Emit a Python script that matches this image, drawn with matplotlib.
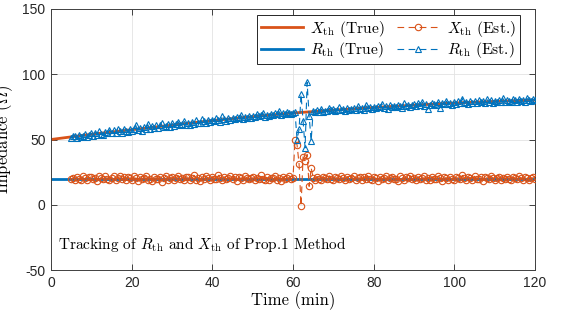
import numpy as np
import matplotlib
matplotlib.use("Agg")
import matplotlib.pyplot as plt

# ---------------- data ----------------
t_true = [0, 10, 20, 30, 40, 50, 60, 70, 80, 90, 100, 110, 120]
x_true = [50.0, 54.0, 57.5, 61.0, 64.5, 67.5, 70.3, 72.5, 74.5, 76.3, 78.0, 79.2, 80.2]
r_true = [20.0] * 13

t_est = np.arange(5.0, 120.01, 0.5)

x_est = [
    19.6, 20.8, 18.9, 21.3, 20.1, 19.2, 21.7, 20.4, 18.7, 20.9,
    21.5, 19.8, 20.3, 18.5, 21.9, 20.6, 19.4, 22.3, 20.0, 19.1,
    20.7, 21.8, 18.8, 20.2, 22.1, 19.5, 20.9, 18.6, 21.4, 20.3,
    19.0, 22.0, 20.5, 18.4, 21.2, 19.7, 20.8, 22.4, 19.3, 20.1,
    18.3, 21.6, 20.0, 19.4, 21.1, 17.8, 20.6, 21.9, 19.2, 20.4,
    21.3, 18.9, 20.7, 22.2, 19.6, 20.2, 18.6, 21.5, 20.9, 19.1,
    20.4, 22.5, 19.3, 20.8, 18.2, 21.0, 19.9, 21.7, 20.3, 18.8,
    21.4, 20.0, 19.5, 22.6, 20.6, 18.7, 21.2, 19.8, 20.5, 21.8,
    19.4, 20.9, 18.5, 21.6, 20.2, 19.1, 22.1, 20.7, 19.6, 20.3,
    21.1, 18.9, 20.4, 19.7, 22.8, 20.1, 19.3, 21.4, 18.6, 20.8,
    20.2, 21.7, 19.0, 20.6, 18.4, 21.3, 19.9, 20.5, 22.0, 19.4,
    20.7, 49.5, 46.0, 31.5, -0.8, 36.7, 33.3, 38.5, 14.1, 28.4,
    20.3, 19.2, 21.6, 20.0, 18.8, 21.2, 20.6, 19.5, 22.2, 20.1,
    18.9, 21.0, 20.4, 19.7, 21.8, 20.2, 18.6, 21.5, 19.8, 20.7,
    22.0, 19.3, 20.5, 21.3, 18.7, 20.9, 19.6, 22.3, 20.1, 19.0,
    21.4, 20.3, 18.5, 21.1, 19.9, 20.6, 22.1, 19.2, 20.8, 21.5,
    19.5, 20.0, 18.3, 21.7, 20.4, 19.1, 21.2, 20.7, 22.4, 19.6,
    20.2, 18.8, 21.0, 19.7, 20.5, 21.9, 19.0, 20.8, 18.6, 21.3,
    20.1, 19.4, 22.2, 20.6, 17.9, 21.1, 20.3, 19.2, 21.6, 20.0,
    18.7, 21.4, 20.5, 19.8, 22.5, 20.2, 19.0, 21.2, 20.7, 18.9,
    21.8, 20.1, 19.5, 20.9, 18.4, 21.5, 20.3, 19.7, 22.1, 20.6,
    19.3, 20.8, 21.6, 18.8, 20.4, 19.9, 21.3, 20.0, 18.6, 21.0,
    20.5, 19.4, 22.0, 20.2, 19.1, 21.4, 20.7, 18.9, 20.3, 21.1,
    20.0,
]

r_est = [
    51.5, 53.0, 52.4, 51.2, 53.6, 52.1, 52.8, 54.1, 51.9, 53.3,
    54.6, 52.9, 55.3, 53.7, 56.8, 54.2, 53.5, 56.0, 54.9, 57.4,
    55.1, 56.9, 54.6, 57.8, 56.2, 55.0, 58.3, 56.7, 55.5, 57.9,
    56.8, 58.4, 60.9, 57.2, 58.9, 56.6, 59.7, 58.1, 61.5, 57.8,
    60.2, 58.6, 61.4, 59.0, 60.8, 62.6, 59.4, 60.1, 61.9, 59.6,
    62.3, 60.4, 61.8, 63.7, 60.9, 62.0, 64.2, 61.4, 62.9, 61.0,
    63.5, 62.1, 64.6, 63.0, 62.4, 65.8, 63.9, 62.7, 64.9, 63.6,
    65.2, 63.8, 66.4, 64.9, 63.6, 67.9, 65.5, 64.2, 66.1, 65.0,
    66.8, 65.4, 67.5, 66.1, 68.9, 65.9, 67.2, 66.5, 68.0, 66.6,
    68.3, 66.9, 69.4, 67.7, 68.8, 70.5, 67.4, 69.0, 68.1, 69.7,
    68.6, 70.2, 69.5, 71.6, 68.9, 70.0, 69.3, 71.1, 70.4, 69.8,
    70.6, 71.0, 50.0, 57.7, 84.5, 64.5, 43.6, 93.8, 68.0, 49.0,
    71.9, 70.8, 72.6, 71.3, 73.4, 70.9, 72.2, 71.7, 74.0, 72.5,
    73.1, 71.8, 72.9, 74.6, 72.3, 73.5, 71.9, 74.1, 72.7, 73.6,
    74.0, 72.8, 75.5, 73.7, 74.4, 72.9, 76.2, 73.9, 74.8, 73.4,
    75.1, 73.9, 76.0, 74.6, 77.5, 74.2, 75.4, 73.6, 76.3, 75.0,
    75.9, 74.7, 76.8, 75.3, 74.5, 77.9, 75.6, 76.5, 74.9, 76.1,
    76.9, 75.5, 77.6, 76.2, 78.8, 75.8, 77.3, 73.6, 76.7, 77.9,
    77.5, 76.4, 78.6, 74.3, 77.8, 76.9, 79.5, 77.2, 78.1, 76.6,
    78.7, 77.3, 79.4, 78.0, 81.4, 77.6, 78.9, 77.1, 79.8, 78.3,
    79.2, 77.9, 80.1, 78.5, 79.6, 77.7, 81.0, 78.8, 79.9, 78.2,
    79.8, 78.4, 80.5, 79.1, 81.6, 78.7, 80.2, 79.4, 78.6, 80.9,
    80.3, 79.0, 81.2, 79.6, 80.6, 78.9, 81.5, 80.0, 79.3, 80.8,
    80.1,
]

x_ticks = [0, 20, 40, 60, 80, 100, 120]
y_ticks = [-50, 0, 50, 100, 150]

# ---------------- style ----------------
plt.rcParams['font.family'] = ['Liberation Sans', 'DejaVu Sans']
plt.rcParams['mathtext.fontset'] = 'cm'
plt.rcParams['axes.unicode_minus'] = False
plt.rcParams['axes.formatter.use_mathtext'] = False

SERIF = ['cmr10', 'DejaVu Serif']
ORANGE = '#D95319'
BLUE = '#0072BD'

fig = plt.figure(figsize=(5.74, 3.14), dpi=100)
ax = fig.add_axes([51 / 574, 1 - 270 / 314, (535 - 51) / 574, (270 - 9) / 314])

ax.plot(t_true, x_true, color=ORANGE, lw=2.0, label=r'$X_{\mathrm{th}}$ (True)', zorder=2)
ax.plot(t_true, r_true, color=BLUE, lw=2.0, label=r'$R_{\mathrm{th}}$ (True)', zorder=2)
ax.plot(t_est, x_est, color=ORANGE, lw=0.8, ls=(0, (6, 4)), marker='o', ms=4.6,
        mfc='none', mec=ORANGE, mew=0.8, label=r'$X_{\mathrm{th}}$ (Est.)', zorder=3)
ax.plot(t_est, r_est, color=BLUE, lw=0.8, ls=(0, (6, 4)), marker='^', ms=5.0,
        mfc='none', mec=BLUE, mew=0.8, label=r'$R_{\mathrm{th}}$ (Est.)', zorder=3)

ax.set_xlim(0, 120)
ax.set_ylim(-50, 150)
ax.set_xticks(x_ticks)
ax.set_yticks(y_ticks)
ax.grid(True, color='#e3e3e3', lw=0.6)
ax.set_axisbelow(True)
ax.tick_params(direction='in', length=4, width=0.6, top=True, right=True,
               labelsize=10, colors='#262626', pad=4)
for s in ax.spines.values():
    s.set_color('#404040')
    s.set_linewidth(0.7)

ax.set_xlabel('Time (min)', fontsize=12, labelpad=1, family=SERIF)
ax.set_ylabel(r'Impedance ($\Omega$)', fontsize=12, labelpad=5, family=SERIF)

ax.text(1.8, -34, r'Tracking of $R_{\mathrm{th}}$ and $X_{\mathrm{th}}$ of Prop.1 Method',
        fontsize=11, va='baseline', ha='left', family=SERIF)

leg = ax.legend(loc='upper right', ncol=2, prop={'family': SERIF, 'size': 11.2},
                frameon=True, fancybox=False,
                edgecolor='#262626', framealpha=1, handlelength=2.7, columnspacing=0.8,
                handletextpad=0.5, borderpad=0.25, labelspacing=0.1, borderaxespad=0,
                bbox_to_anchor=(0.969, 0.977))
leg.get_frame().set_linewidth(0.7)

fig.savefig('out.png', dpi=100)
